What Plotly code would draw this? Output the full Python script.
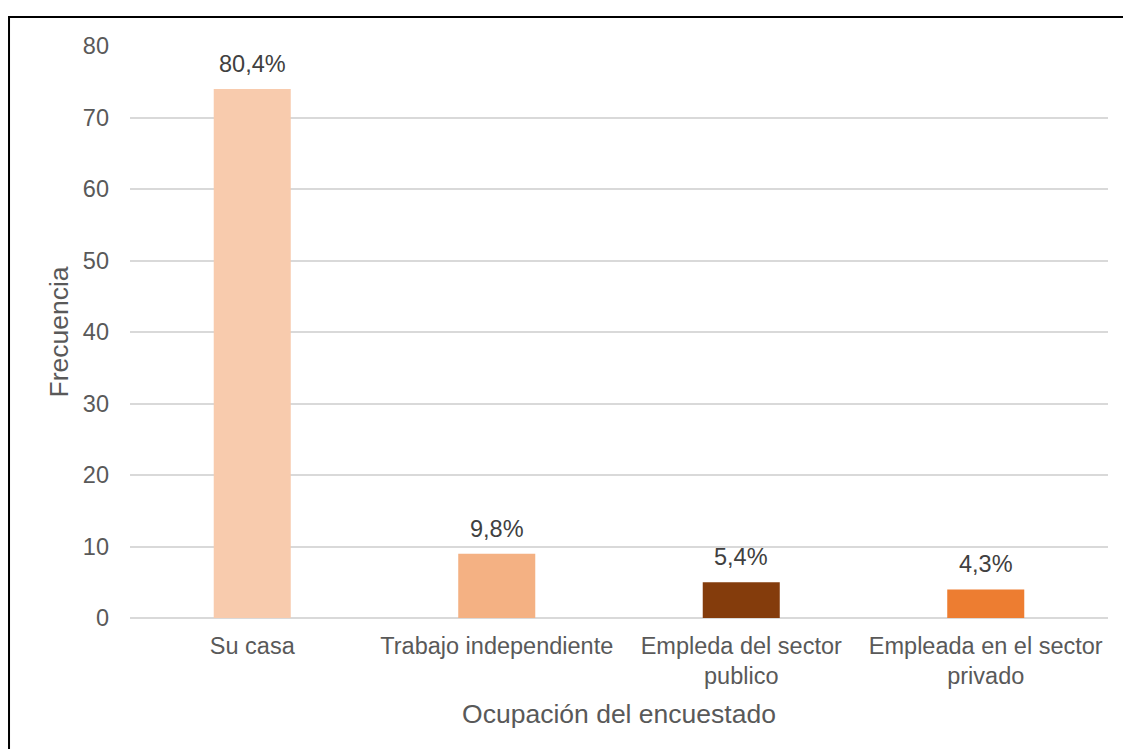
import plotly.graph_objects as go

# Occupation of respondents and their frequencies
categories = [
    "Su casa",
    "Trabajo independiente",
    "Empleda del sector<br>publico",
    "Empleada en el sector<br>privado",
]
frequencies = [74, 9, 5, 4]
bar_colors = ["#F8CBAD", "#F4B183", "#843C0C", "#ED7D31"]
y_ticks = [0, 10, 20, 30, 40, 50, 60, 70, 80]

total = sum(frequencies)
pct_labels = [f"{v / total * 100:.1f}%".replace(".", ",") for v in frequencies]

FONT = "Liberation Sans, Arial, sans-serif"
GREY = "#595959"

fig = go.Figure(
    go.Bar(
        x=categories,
        y=frequencies,
        marker=dict(color=bar_colors, line=dict(width=0)),
        width=0.315,
        hoverinfo="skip",
    )
)

# Percentage labels above each bar
for cat, val, lab in zip(categories, frequencies, pct_labels):
    fig.add_annotation(
        x=cat, y=val, text=lab, showarrow=False,
        yanchor="bottom", yshift=10,
        font=dict(family=FONT, size=23.5, color="#404040"),
    )

# Outer frame around the chart
fig.add_shape(
    type="rect", xref="paper", yref="paper",
    x0=-0.1237, x1=1.03, y0=-0.25, y1=1.0507,
    line=dict(color="black", width=2), fillcolor="rgba(0,0,0,0)",
    layer="above",
)

fig.update_layout(
    width=1123, height=749,
    margin=dict(l=130, r=15, t=46, b=131),
    paper_bgcolor="white", plot_bgcolor="white",
    showlegend=False,
    font=dict(family=FONT, color=GREY),
    xaxis=dict(
        showgrid=False, showline=False, ticks="",
        tickfont=dict(size=23.5, color=GREY),
        ticklabelstandoff=11,
        title=dict(text="Ocupación del encuestado",
                   font=dict(size=26.5, color=GREY), standoff=16),
    ),
    yaxis=dict(
        range=[0, 80], tickvals=y_ticks,
        showgrid=True, gridcolor="#D9D9D9", gridwidth=1.5,
        zeroline=True, zerolinecolor="#D9D9D9", zerolinewidth=1.5,
        showline=False, ticks="",
        tickfont=dict(size=23.5, color=GREY),
        ticklabelstandoff=20,
        title=dict(text="Frecuencia", font=dict(size=26.5, color=GREY), standoff=6),
    ),
)

fig.write_html("out.html")
